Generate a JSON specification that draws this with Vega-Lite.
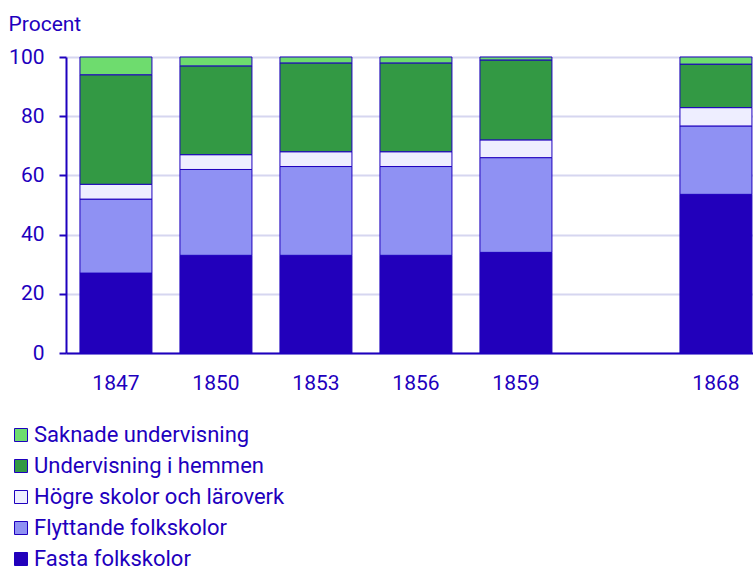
{
  "$schema": "https://vega.github.io/schema/vega-lite/v6.json",
  "autosize": {"type": "none"},
  "padding": {"left": 66, "top": 57, "right": 0, "bottom": 213},
  "width": 687,
  "height": 296,
  "background": "white",
  "config": {
    "font": "Roboto",
    "view": {"stroke": null}
  },
  "data": {
    "values": [
      {"ar": "1847", "kategori": "Fasta folkskolor", "rank": 1, "procent": 27},
      {"ar": "1847", "kategori": "Flyttande folkskolor", "rank": 2, "procent": 25},
      {"ar": "1847", "kategori": "Högre skolor och läroverk", "rank": 3, "procent": 5},
      {"ar": "1847", "kategori": "Undervisning i hemmen", "rank": 4, "procent": 37},
      {"ar": "1847", "kategori": "Saknade undervisning", "rank": 5, "procent": 6},
      {"ar": "1850", "kategori": "Fasta folkskolor", "rank": 1, "procent": 33},
      {"ar": "1850", "kategori": "Flyttande folkskolor", "rank": 2, "procent": 29},
      {"ar": "1850", "kategori": "Högre skolor och läroverk", "rank": 3, "procent": 5},
      {"ar": "1850", "kategori": "Undervisning i hemmen", "rank": 4, "procent": 30},
      {"ar": "1850", "kategori": "Saknade undervisning", "rank": 5, "procent": 3},
      {"ar": "1853", "kategori": "Fasta folkskolor", "rank": 1, "procent": 33},
      {"ar": "1853", "kategori": "Flyttande folkskolor", "rank": 2, "procent": 30},
      {"ar": "1853", "kategori": "Högre skolor och läroverk", "rank": 3, "procent": 5},
      {"ar": "1853", "kategori": "Undervisning i hemmen", "rank": 4, "procent": 30},
      {"ar": "1853", "kategori": "Saknade undervisning", "rank": 5, "procent": 2},
      {"ar": "1856", "kategori": "Fasta folkskolor", "rank": 1, "procent": 33},
      {"ar": "1856", "kategori": "Flyttande folkskolor", "rank": 2, "procent": 30},
      {"ar": "1856", "kategori": "Högre skolor och läroverk", "rank": 3, "procent": 5},
      {"ar": "1856", "kategori": "Undervisning i hemmen", "rank": 4, "procent": 30},
      {"ar": "1856", "kategori": "Saknade undervisning", "rank": 5, "procent": 2},
      {"ar": "1859", "kategori": "Fasta folkskolor", "rank": 1, "procent": 34},
      {"ar": "1859", "kategori": "Flyttande folkskolor", "rank": 2, "procent": 32},
      {"ar": "1859", "kategori": "Högre skolor och läroverk", "rank": 3, "procent": 6},
      {"ar": "1859", "kategori": "Undervisning i hemmen", "rank": 4, "procent": 27},
      {"ar": "1859", "kategori": "Saknade undervisning", "rank": 5, "procent": 1},
      {"ar": "1868", "kategori": "Fasta folkskolor", "rank": 1, "procent": 53.6},
      {"ar": "1868", "kategori": "Flyttande folkskolor", "rank": 2, "procent": 23.1},
      {"ar": "1868", "kategori": "Högre skolor och läroverk", "rank": 3, "procent": 6.2},
      {"ar": "1868", "kategori": "Undervisning i hemmen", "rank": 4, "procent": 14.7},
      {"ar": "1868", "kategori": "Saknade undervisning", "rank": 5, "procent": 2.4}
    ]
  },
  "mark": {"type": "bar", "stroke": "#1E00BE", "strokeWidth": 1},
  "encoding": {
    "x": {
      "field": "ar",
      "type": "ordinal",
      "scale": {
        "domain": ["1847", "1850", "1853", "1856", "1859", "1862", "1868"],
        "paddingInner": 0.28,
        "paddingOuter": 0.075,
        "align": 0.93
      },
      "axis": {
        "title": null,
        "labelAngle": 0,
        "labelExpr": "datum.label == '1862' ? '' : datum.label",
        "labelFont": "Roboto",
        "labelFontSize": 21,
        "labelColor": "#1E00BE",
        "labelPadding": 19,
        "ticks": false,
        "domainColor": "#1E00BE",
        "domainWidth": 2,
        "grid": false
      }
    },
    "y": {
      "field": "procent",
      "type": "quantitative",
      "stack": "zero",
      "scale": {"domain": [0, 100], "nice": false},
      "axis": {
        "title": "Procent",
        "titleAngle": 0,
        "titleAlign": "left",
        "titleBaseline": "alphabetic",
        "titleX": -58,
        "titleY": -27,
        "titleFont": "Roboto",
        "titleFontSize": 21,
        "titleFontWeight": "normal",
        "titleColor": "#1E00BE",
        "values": [0, 20, 40, 60, 80, 100],
        "labelFont": "Roboto",
        "labelFontSize": 21,
        "labelColor": "#1E00BE",
        "labelPadding": 15,
        "tickSize": 7,
        "tickWidth": 2,
        "tickColor": "#1E00BE",
        "domainColor": "#1E00BE",
        "domainWidth": 2,
        "grid": true,
        "gridColor": "#D6D6F0",
        "gridWidth": 2
      }
    },
    "color": {
      "field": "kategori",
      "type": "nominal",
      "scale": {
        "domain": ["Saknade undervisning", "Undervisning i hemmen", "Högre skolor och läroverk", "Flyttande folkskolor", "Fasta folkskolor"],
        "range": ["#6EDC6E", "#339944", "#EEEEFF", "#8F91F3", "#2200BB"]
      },
      "legend": {
        "title": null,
        "orient": "none",
        "legendX": -56,
        "legendY": 367,
        "direction": "vertical",
        "padding": 0,
        "symbolType": "square",
        "symbolSize": 169,
        "symbolStrokeColor": "#1E00BE",
        "symbolStrokeWidth": 1,
        "labelFont": "Roboto",
        "labelFontSize": 22,
        "labelColor": "#1E00BE",
        "labelOffset": 2,
        "rowPadding": 9,
        "labelLimit": 500
      }
    },
    "order": {"field": "rank", "type": "quantitative", "sort": "ascending"}
  }
}
